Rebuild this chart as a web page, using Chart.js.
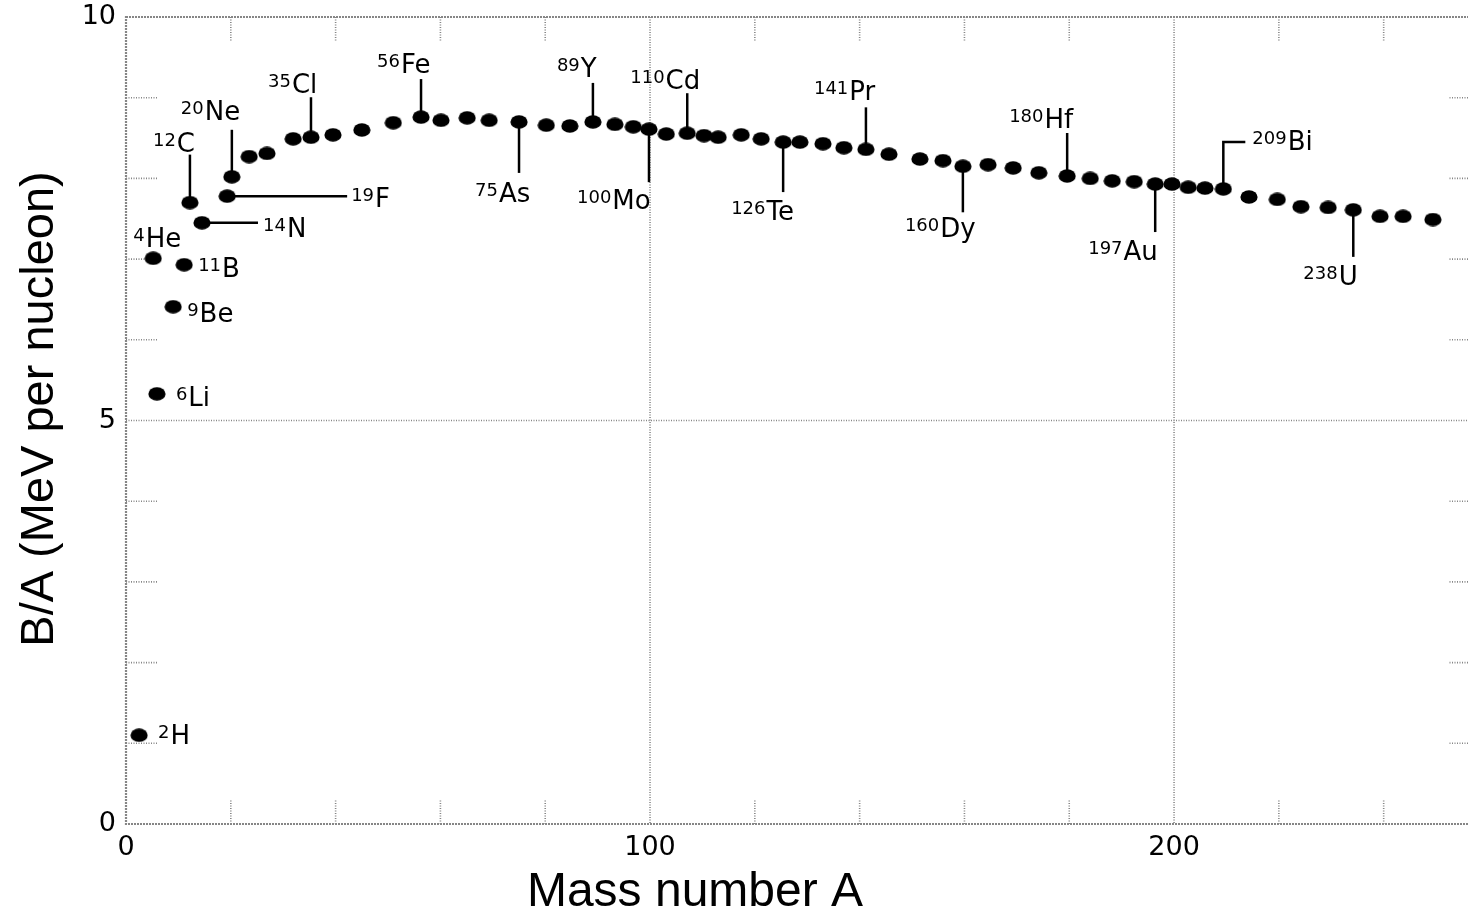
<!DOCTYPE html>
<html>
<head>
<meta charset="utf-8">
<title>Binding energy per nucleon</title>
<script src="https://cdn.jsdelivr.net/npm/chart.js@4.4.1/dist/chart.umd.min.js"></script>
<style>
  html, body { margin: 0; padding: 0; background: #fff; overflow: hidden; }
  canvas { display: block; }
</style>
</head>
<body>
<canvas id="chart" width="1500" height="917"></canvas>
<script>
// Data: mass number A and B/A in MeV per nucleon
const massNumbers = [
    2.5, 5.2, 5.9, 9.0, 11.1, 12.2, 14.5, 19.3, 20.2, 23.5,
    26.9, 31.9, 35.3, 39.5, 45.0, 51.0, 56.3, 60.1, 65.1, 69.3,
    75.0, 80.2, 84.7, 89.1, 93.3, 96.8, 99.8, 103.1, 107.1, 110.3,
    113.0, 117.4, 121.2, 125.4, 128.6, 133.0, 137.0, 141.2, 145.6, 151.5,
    155.9, 159.7, 164.5, 169.3, 174.2, 179.6, 184.0, 188.2, 192.4, 196.4,
    199.6, 202.7, 205.9, 209.4, 214.3, 219.7, 224.2, 229.4, 234.2, 239.3,
    243.7, 249.4
];
const bindingPerNucleon = [
    1.10, 7.01, 5.33, 6.41, 6.93, 7.70, 7.45, 7.78, 8.02, 8.27,
    8.31, 8.49, 8.51, 8.54, 8.60, 8.69, 8.76, 8.72, 8.75, 8.72,
    8.70, 8.66, 8.65, 8.70, 8.67, 8.64, 8.61, 8.55, 8.56, 8.53,
    8.51, 8.54, 8.49, 8.45, 8.45, 8.43, 8.38, 8.36, 8.30, 8.24,
    8.22, 8.15, 8.17, 8.13, 8.07, 8.03, 8.00, 7.97, 7.96, 7.93,
    7.93, 7.89, 7.88, 7.87, 7.77, 7.74, 7.65, 7.64, 7.61, 7.53,
    7.53, 7.49
];

// Labelled nuclides: which point, mass number, element symbol
const labelPoint = [0, 1, 2, 3, 4, 5, 6, 7, 8, 12, 16, 20, 23, 26, 28, 33, 37, 41, 45, 49, 53, 58];
const labelMass = ['2', '4', '6', '9', '11', '12', '14', '19', '20', '35', '56', '75', '89', '100', '110', '126', '141', '160', '180', '197', '209', '238'];
const labelSymbol = ['H', 'He', 'Li', 'Be', 'B', 'C', 'N', 'F', 'Ne', 'Cl', 'Fe', 'As', 'Y', 'Mo', 'Cd', 'Te', 'Pr', 'Dy', 'Hf', 'Au', 'Bi', 'U'];

const xTicks = [0, 100, 200];
const yTicks = [0, 5, 10];

// Label placement (pixels relative to the dot): leader kind, leader length, text left, symbol baseline
const labelLayout = [
    { line: 'none', len: 0, dx: 19, by: 9 },      // 2H
    { line: 'none', len: 0, dx: -20, by: -11 },   // 4He
    { line: 'none', len: 0, dx: 19, by: 12 },     // 6Li
    { line: 'none', len: 0, dx: 14, by: 15 },     // 9Be
    { line: 'none', len: 0, dx: 14, by: 12 },     // 11B
    { line: 'up', len: 48, dx: -37, by: -51 },    // 12C
    { line: 'right', len: 56, dx: 61, by: 14 },   // 14N
    { line: 'right', len: 120, dx: 124, by: 11 }, // 19F
    { line: 'up', len: 47, dx: -51, by: -57 },    // 20Ne
    { line: 'up', len: 40, dx: -43, by: -44 },    // 35Cl
    { line: 'up', len: 38, dx: -44, by: -44 },    // 56Fe
    { line: 'down', len: 51, dx: -44, by: 80 },   // 75As
    { line: 'up', len: 39, dx: -36, by: -45 },    // 89Y
    { line: 'down', len: 53, dx: -72, by: 80 },   // 100Mo
    { line: 'up', len: 40, dx: -57, by: -44 },    // 110Cd
    { line: 'down', len: 50, dx: -52, by: 78 },   // 126Te
    { line: 'up', len: 42, dx: -52, by: -49 },    // 141Pr
    { line: 'down', len: 46, dx: -58, by: 71 },   // 160Dy
    { line: 'up', len: 43, dx: -58, by: -48 },    // 180Hf
    { line: 'down', len: 48, dx: -67, by: 76 },   // 197Au
    { line: 'bracket', len: 47, dx: 29, by: -39 },// 209Bi
    { line: 'down', len: 47, dx: -50, by: 75 }    // 238U
];

const FONT = '"Liberation Sans", Arial, Helvetica, sans-serif';
const LABEL_FONT = '"DejaVu Sans", Verdana, sans-serif';

// Filled ellipse used as the point marker
const dot = document.createElement('canvas');
dot.width = 18;
dot.height = 14;
const dctx = dot.getContext('2d');
dctx.fillStyle = '#000';
dctx.beginPath();
dctx.ellipse(9, 7, 8.6, 6.8, 0, 0, Math.PI * 2);
dctx.fill();

// Frame, inward ticks and the few grid lines
const framePlugin = {
    id: 'frame',
    beforeDatasetsDraw(chart) {
        const { ctx, chartArea: a, scales: { x, y } } = chart;
        ctx.save();
        ctx.strokeStyle = '#868686';
        ctx.lineWidth = 2.2;
        ctx.setLineDash([2, 1]);
        ctx.strokeRect(a.left, a.top, a.right - a.left, a.bottom - a.top);

        ctx.lineWidth = 1.6;
        ctx.setLineDash([1, 1.5]);
        ctx.beginPath();
        for (let v = 20; v < x.max; v += 20) {
            const px = x.getPixelForValue(v);
            if (v % 100 === 0) {
                ctx.moveTo(px, a.top); ctx.lineTo(px, a.bottom);
            } else {
                ctx.moveTo(px, a.top); ctx.lineTo(px, a.top + 25);
                ctx.moveTo(px, a.bottom); ctx.lineTo(px, a.bottom - 24);
            }
        }
        for (let v = 1; v < 10; v++) {
            const py = y.getPixelForValue(v);
            if (v === 5) {
                ctx.moveTo(a.left, py); ctx.lineTo(a.right, py);
            } else {
                ctx.moveTo(a.left, py); ctx.lineTo(a.left + 32, py);
                ctx.moveTo(a.right, py); ctx.lineTo(a.right - 30, py);
            }
        }
        ctx.stroke();
        ctx.restore();
    },
    afterDatasetsDraw(chart) {
        const { ctx, scales: { x, y } } = chart;
        ctx.save();
        ctx.fillStyle = '#000';
        ctx.strokeStyle = '#000';
        ctx.lineWidth = 2.5;
        ctx.setLineDash([]);

        labelPoint.forEach((idx, i) => {
            const L = labelLayout[i];
            const px = x.getPixelForValue(massNumbers[idx]);
            const py = y.getPixelForValue(bindingPerNucleon[idx]);
            ctx.beginPath();
            if (L.line === 'up') {
                ctx.moveTo(px, py); ctx.lineTo(px, py - L.len);
            } else if (L.line === 'down') {
                ctx.moveTo(px, py); ctx.lineTo(px, py + L.len);
            } else if (L.line === 'right') {
                ctx.moveTo(px, py); ctx.lineTo(px + L.len, py);
            } else if (L.line === 'bracket') {
                ctx.moveTo(px, py); ctx.lineTo(px, py - L.len); ctx.lineTo(px + 22, py - L.len);
            }
            ctx.stroke();

            const tx = px + L.dx;
            const ty = py + L.by;
            ctx.textBaseline = 'alphabetic';
            ctx.textAlign = 'left';
            ctx.font = '18px ' + LABEL_FONT;
            ctx.fillText(labelMass[i], tx, ty - 6);
            const w = ctx.measureText(labelMass[i]).width;
            ctx.font = '26px ' + LABEL_FONT;
            ctx.fillText(labelSymbol[i], tx + w + 1, ty);
        });

        // Axis titles
        ctx.font = '48px ' + FONT;
        ctx.textAlign = 'center';
        ctx.textBaseline = 'middle';
        ctx.fillText('Mass number A', 695, 893);
        ctx.translate(40, 409);
        ctx.rotate(-Math.PI / 2);
        ctx.font = '47px ' + FONT;
        ctx.fillText('B/A (MeV per nucleon)', 0, 0);
        ctx.restore();
    }
};

const points = massNumbers.map((a, i) => ({ x: a, y: bindingPerNucleon[i] }));

const chart = new Chart(document.getElementById('chart').getContext('2d'), {
    type: 'scatter',
    data: {
        datasets: [{
            label: 'B/A',
            data: points,
            pointStyle: dot,
            backgroundColor: '#000',
            borderColor: '#000'
        }]
    },
    options: {
        responsive: false,
        animation: false,
        events: [],
        layout: { padding: { top: 17, right: 22, left: 0, bottom: 0 } },
        plugins: {
            legend: { display: false },
            tooltip: { enabled: false }
        },
        scales: {
            x: {
                type: 'linear',
                min: 0,
                max: 258,
                grid: { display: false, drawTicks: false },
                border: { display: false },
                afterBuildTicks(scale) {
                    scale.ticks = xTicks.map(v => ({ value: v }));
                },
                ticks: {
                    color: '#000',
                    font: { size: 27, family: LABEL_FONT },
                    padding: 8,
                    maxRotation: 0
                },
                afterFit(scale) {
                    scale.height = 93;
                    scale.paddingLeft = 0;
                    scale.paddingRight = 0;
                }
            },
            y: {
                type: 'linear',
                min: 0,
                max: 10,
                grid: { display: false, drawTicks: false },
                border: { display: false },
                afterBuildTicks(scale) {
                    scale.ticks = yTicks.map(v => ({ value: v }));
                },
                ticks: {
                    color: '#000',
                    font: { size: 27, family: LABEL_FONT },
                    padding: 10
                },
                afterFit(scale) {
                    scale.width = 126;
                    scale.paddingTop = 0;
                    scale.paddingBottom = 0;
                }
            }
        }
    },
    plugins: [framePlugin]
});
</script>
</body>
</html>
